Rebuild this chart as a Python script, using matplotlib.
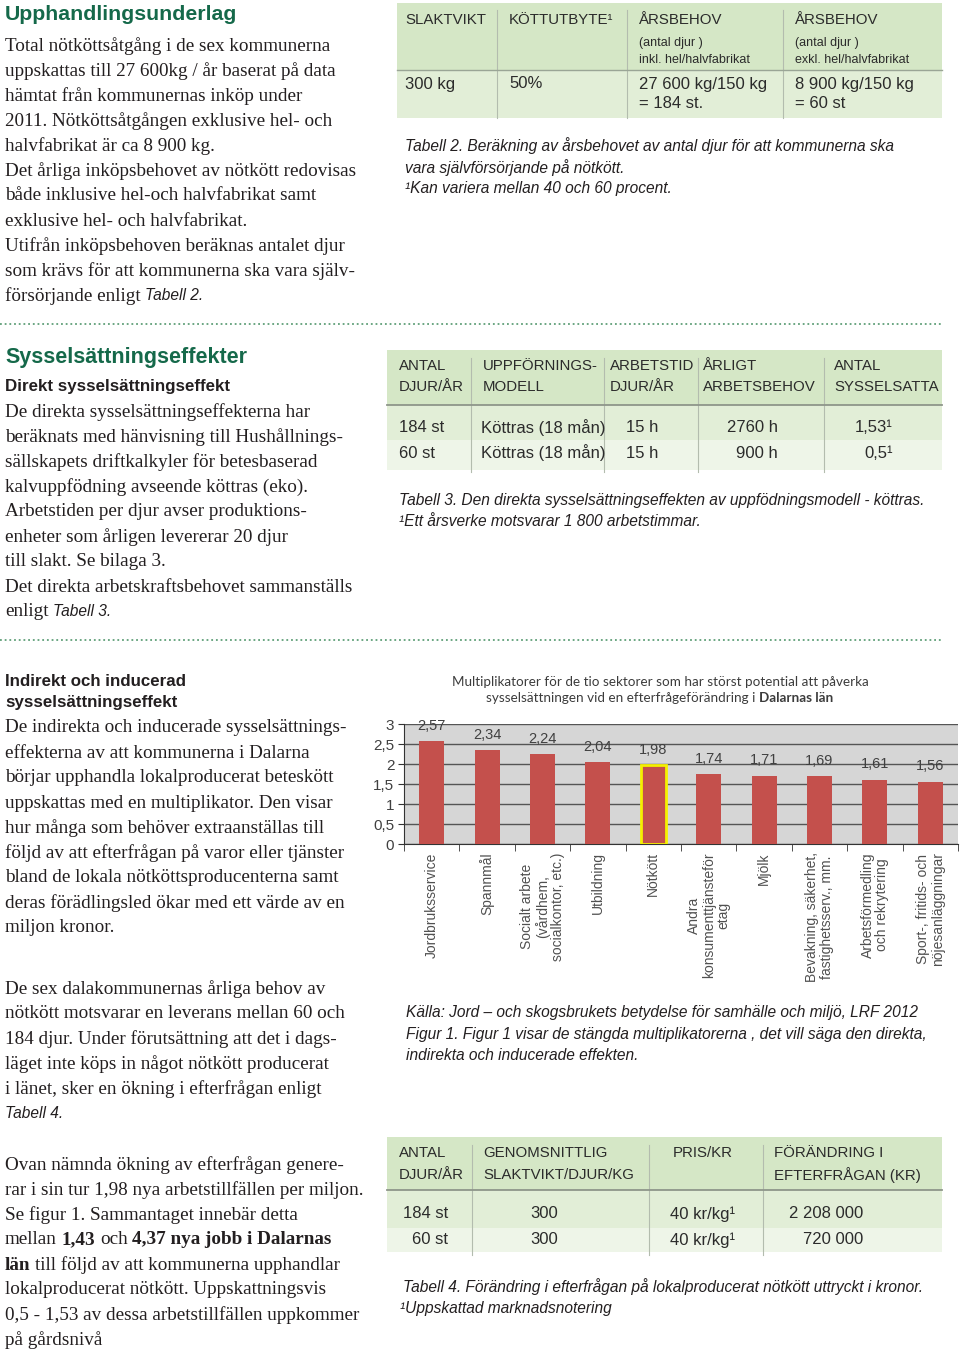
import matplotlib.pyplot as plt
import numpy as np

W, H = 960, 1352

# Figur 1 - multiplikatorer
sektorer = ["Jordbruksservice", "Spannmål", "Socialt arbete\n(vårdhem,\nsocialkontor, etc.)",
            "Utbildning", "Nötkött", "Andra\nkonsumenttjänsteför\netag", "Mjölk",
            "Bevakning, säkerhet,\nfastighetsserv., mm.", "Arbetsförmedling\noch rekrytering",
            "Sport-, fritids- och\nnöjesanläggningar"]
multiplikatorer = [2.57, 2.34, 2.24, 2.04, 1.98, 1.74, 1.71, 1.69, 1.61, 1.56]
markerad = "Nötkött"
y_steg = [0, 0.5, 1, 1.5, 2, 2.5, 3]

# Tabell 2
t2_rubrik = ["SLAKTVIKT", "KÖTTUTBYTE¹", "ÅRSBEHOV", "ÅRSBEHOV"]
t2_under = [[], [], ["(antal djur )", "inkl. hel/halvfabrikat"],
            ["(antal djur )", "exkl. hel/halvfabrikat"]]
t2_rad = [["300 kg"], ["50%"], ["27 600 kg/150 kg", "= 184 st."], ["8 900 kg/150 kg", "= 60 st"]]

# Tabell 3
t3_rubrik = [["ANTAL", "DJUR/ÅR"], ["UPPFÖRNINGS-", "MODELL"], ["ARBETSTID", "DJUR/ÅR"],
             ["ÅRLIGT", "ARBETSBEHOV"], ["ANTAL", "SYSSELSATTA"]]
t3_rader = [["184 st", "Köttras (18 mån)", "15 h", "2760 h", "1,53¹"],
            ["60 st", "Köttras (18 mån)", "15 h", "900 h", "0,5¹"]]

# Tabell 4
t4_rubrik = [["ANTAL", "DJUR/ÅR"], ["GENOMSNITTLIG", "SLAKTVIKT/DJUR/KG"], ["PRIS/KR"],
             ["FÖRÄNDRING I", "EFTERFRÅGAN (KR)"]]
t4_rader = [["184 st", "300", "40 kr/kg¹", "2 208 000"],
            ["60 st", "300", "40 kr/kg¹", "720 000"]]

SERIF = "Liberation Serif"
SANS = "Liberation Sans"
GRON = "#15694a"
TEXT = "#231f20"
TAB = "#2b2b2b"

fig = plt.figure(figsize=(W / 100, H / 100), dpi=100)
bg = fig.add_axes([0, 0, 1, 1])
bg.set_xlim(0, W)
bg.set_ylim(H, 0)
bg.axis("off")
renderer = fig.canvas.get_renderer()


def txt(x, y, s, **kw):
    kw.setdefault("family", SANS)
    kw.setdefault("va", "center")
    kw.setdefault("color", TEXT)
    return bg.text(x, y, s, **kw)


def bredd(t):
    return t.get_window_extent(renderer).width


def matt(s, **kw):
    t = txt(0, 0, s, **kw)
    b = bredd(t)
    t.remove()
    return b


def rad(x, y, delar, center=False, **kw):
    # delar: lista av (text, extra stil)
    sp = matt("x x", **kw) - matt("xx", **kw)
    texter = []
    pos = 0
    for s, extra in delar:
        pos += sp * (len(s) - len(s.lstrip(" ")))
        t = txt(x + pos, y, s.strip(" "), **{**kw, **extra})
        texter.append((t, pos))
        pos += bredd(t) + sp * (len(s) - len(s.rstrip(" ")))
    if center:
        for t, p in texter:
            t.set_x(x + p - pos / 2)


BODY = 13.8


def stycke(y0, rader, dy=25):
    for i, r in enumerate(rader):
        if isinstance(r, str):
            txt(5, y0 + i * dy, r, family=SERIF, fontsize=BODY)
        else:
            rad(5, y0 + i * dy, r, family=SERIF, fontsize=BODY)


KUR = {"family": SANS, "style": "italic", "fontsize": 11.2}
FET = {"weight": "bold"}

# --- vänsterspalt ---
txt(5, 14, "Upphandlingsunderlag", fontsize=15.3, weight="bold", color=GRON)
stycke(46, ["Total nötköttsåtgång i de sex kommunerna",
            "uppskattas till 27 600kg / år baserat på data",
            "hämtat från kommunernas inköp under",
            "2011. Nötköttsåtgången exklusive hel- och",
            "halvfabrikat är ca 8 900 kg.",
            "Det årliga inköpsbehovet av nötkött redovisas",
            "både inklusive hel-och halvfabrikat samt",
            "exklusive hel- och halvfabrikat.",
            "Utifrån inköpsbehoven beräknas antalet djur",
            "som krävs för att kommunerna ska vara själv-",
            [("försörjande enligt ", {}), ("Tabell 2.", KUR)]])

txt(5, 357, "Sysselsättningseffekter", fontsize=15.5, weight="bold", color=GRON)
txt(5, 387, "Direkt sysselsättningseffekt", fontsize=12.2, weight="bold")
stycke(412, ["De direkta sysselsättningseffekterna har",
             "beräknats med hänvisning till Hushållnings-",
             "sällskapets driftkalkyler för betesbaserad",
             "kalvuppfödning avseende köttras (eko).",
             "Arbetstiden per djur avser produktions-",
             "enheter som årligen levererar 20 djur",
             "till slakt. Se bilaga 3.",
             "Det direkta arbetskraftsbehovet sammanställs",
             [("enligt ", {}), ("Tabell 3.", KUR)]])

txt(5, 681, "Indirekt och inducerad", fontsize=12.2, weight="bold")
txt(5, 703, "sysselsättningseffekt", fontsize=12.2, weight="bold")
stycke(728, ["De indirekta och inducerade sysselsättnings-",
             "effekterna av att kommunerna i Dalarna",
             "börjar upphandla lokalproducerat beteskött",
             "uppskattas med en multiplikator. Den visar",
             "hur många som behöver extraanställas till",
             "följd av att efterfrågan på varor eller tjänster",
             "bland de lokala nötköttsproducenterna samt",
             "deras förädlingsled ökar med ett värde av en",
             "miljon kronor."])
stycke(989, ["De sex dalakommunernas årliga behov av",
             "nötkött motsvarar en leverans mellan 60 och",
             "184 djur. Under förutsättning att det i dags-",
             "läget inte köps in något nötkött producerat",
             "i länet, sker en ökning i efterfrågan enligt",
             [("Tabell 4.", KUR)]])
stycke(1165, ["Ovan nämnda ökning av efterfrågan genere-",
              "rar i sin tur 1,98 nya arbetstillfällen per miljon.",
              "Se figur 1. Sammantaget innebär detta",
              [("mellan ", {}), ("1,43", FET), (" och ", {}), ("4,37 nya jobb i Dalarnas", FET)],
              [("län", FET), (" till följd av att kommunerna upphandlar", {})],
              "lokalproducerat nötkött. Uppskattningsvis",
              "0,5 - 1,53 av dessa arbetstillfällen uppkommer",
              "på gårdsnivå"])

# prickade avdelare
for y in [324, 640]:
    bg.plot([0, 942], [y, y], color="#5f9f78", lw=1.3, linestyle=(0, (1, 1.6)))

HUV_GRON = "#d5e7c6"
RAD1 = "#e2eed7"
RAD2 = "#eef5e8"


def ruta(x0, y0, x1, y1, farg):
    bg.add_patch(plt.Rectangle((x0, y0), x1 - x0, y1 - y0, color=farg, lw=0, zorder=0))


def vlinjer(xs, y0, y1):
    for x in xs:
        bg.plot([x, x], [y0, y1], color="#b3bcae", lw=0.8, zorder=1)


# --- Tabell 2 ---
ruta(397, 3, 942, 70, HUV_GRON)
ruta(397, 70, 942, 118, RAD1)
bg.plot([397, 942], [70, 70], color="#9aa596", lw=1.0)
vlinjer([497, 627, 783], 10, 118)
t2_x = [405, 509, 639, 795]
for x, r, u, d in zip(t2_x, t2_rubrik, t2_under, t2_rad):
    txt(x, 20, r, fontsize=10.8, color=TAB)
    for i, s in enumerate(u):
        txt(x, 43 + 17 * i, s, fontsize=9, color=TAB)
    for i, s in enumerate(d):
        txt(x, 84 + 19 * i, s, fontsize=12, color=TAB)

txt(405, 146, "Tabell 2. Beräkning av årsbehovet av antal djur för att kommunerna ska", **KUR)
txt(405, 168, "vara självförsörjande på nötkött.", **KUR)
txt(405, 189, "¹Kan variera mellan 40 och 60 procent.", **KUR)

# --- Tabell 3 ---
ruta(387, 350, 942, 405, HUV_GRON)
ruta(387, 405, 942, 440, RAD1)
ruta(387, 440, 942, 470, RAD2)
bg.plot([387, 942], [405, 405], color="#8e968a", lw=1.3)
vlinjer([471, 604, 698, 824], 358, 472)
t3_x = [399, 483, 610, 703, 834]
for x, r in zip(t3_x, t3_rubrik):
    for i, s in enumerate(r):
        txt(x, 366 + 21 * i, s, fontsize=10.8, color=TAB)
t3_data_x = [(399, "left"), (481, "left"), (626, "left"), (778, "right"), (893, "right")]
for j, rd in enumerate(t3_rader):
    for (x, ha), s in zip(t3_data_x, rd):
        txt(x, 428 + 25 * j, s, fontsize=12, ha=ha, color=TAB)

txt(399, 500, "Tabell 3. Den direkta sysselsättningseffekten av uppfödningsmodell - köttras.", **KUR)
txt(399, 521, "¹Ett årsverke motsvarar 1 800 arbetstimmar.", **KUR)

# --- Figur 1 ---
rad(660, 682, [("Multiplikatorer för de tio sektorer som har störst potential att påverka", {})],
    center=True, family="Lato", fontsize=9.7, color="#3c3c3c")
rad(660, 698, [("sysselsättningen vid en efterfrågeförändring i ", {}), ("Dalarnas län", FET)],
    center=True, family="Lato", fontsize=9.7, color="#3c3c3c")

ax = fig.add_axes([404 / W, 1 - 844 / H, (958 - 404) / W, (844 - 724) / H])
x = np.arange(len(sektorer))
staplar = ax.bar(x, multiplikatorer, width=0.45, color="#c4504c", zorder=3)
for b, s in zip(staplar, sektorer):
    if s == markerad:
        b.set_edgecolor("#f5f000")
        b.set_linewidth(2)
for xi, v in zip(x, multiplikatorer):
    ax.text(xi, v + 0.38, f"{v:.2f}".replace(".", ","), ha="center", va="center",
            fontsize=10.5, color="#404040", family=SANS, zorder=4)
ax.set_xlim(-0.5, len(sektorer) - 0.5)
ax.set_ylim(0, 3)
ax.set_facecolor("#d6d6d6")
ax.set_yticks(y_steg)
ax.set_yticklabels([f"{v:g}".replace(".", ",") for v in y_steg], family=SANS,
                   fontsize=11, color="#404040")
ax.yaxis.grid(True, color="#555555", lw=1.0)
ax.set_axisbelow(True)
ax.set_xticks(x)
ax.set_xticklabels(sektorer, rotation=90, va="top", ha="center", multialignment="center",
                   family=SANS, fontsize=10, color="#505050", linespacing=1.05)
ax.set_xticks(np.arange(-0.5, len(sektorer)), minor=True)
ax.tick_params(axis="x", which="major", length=0, pad=6)
ax.tick_params(axis="x", which="minor", length=5, color="#333333")
ax.tick_params(axis="y", length=4, color="#333333", pad=3)
for s in ["top", "right"]:
    ax.spines[s].set_visible(False)
for s in ["left", "bottom"]:
    ax.spines[s].set_color("#333333")

txt(406, 1012, "Källa: Jord – och skogsbrukets betydelse för samhälle och miljö, LRF 2012", **KUR)
txt(406, 1034, "Figur 1. Figur 1 visar de stängda multiplikatorerna , det vill säga den direkta,", **KUR)
txt(406, 1055, "indirekta och inducerade effekten.", **KUR)

# --- Tabell 4 ---
ruta(387, 1137, 942, 1190, HUV_GRON)
ruta(387, 1190, 942, 1228, RAD1)
ruta(387, 1228, 942, 1252, RAD2)
bg.plot([387, 942], [1190, 1190], color="#8e968a", lw=1.3)
vlinjer([472, 649, 763], 1145, 1255)
t4_x = [(399, "left"), (483, "left"), (703, "center"), (774, "left")]
for (x0, ha), r in zip(t4_x, t4_rubrik):
    for i, s in enumerate(r):
        txt(x0, 1153 + 22 * i, s, fontsize=10.8, ha=ha, color=TAB)
t4_data_x = [(448, "right"), (530, "left"), (670, "left"), (863, "right")]
for j, rd in enumerate(t4_rader):
    for (x0, ha), s in zip(t4_data_x, rd):
        txt(x0, 1214 + 26 * j, s, fontsize=12, ha=ha, color=TAB)

txt(403, 1287, "Tabell 4. Förändring i efterfrågan på lokalproducerat nötkött uttryckt i kronor.", **KUR)
txt(400, 1308, "¹Uppskattad marknadsnotering", **KUR)

fig.savefig("out.png", dpi=100)
